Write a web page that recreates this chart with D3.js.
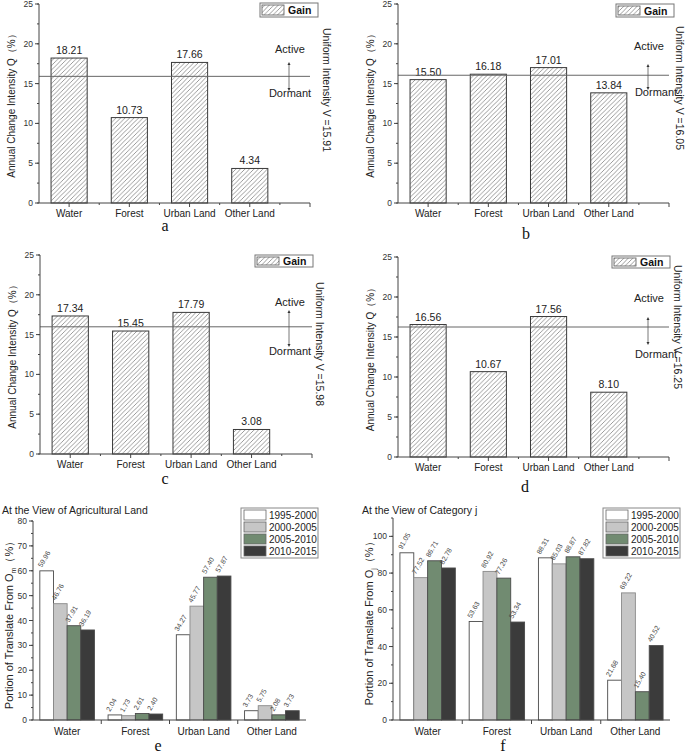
<!DOCTYPE html>
<html><head><meta charset="utf-8">
<script src="https://cdn.jsdelivr.net/npm/d3@7"></script>
<style>
body{margin:0;background:#fff;}
svg{display:block;font-family:Arial,"Liberation Sans",sans-serif;}
</style></head>
<body>
<svg id="c" width="685" height="753"></svg>
<script>
// ---------- DATA ----------
const categories = ["Water", "Forest", "Urban Land", "Other Land"];
const gainTicks = [0, 5, 10, 15, 20, 25];
const gainA = [18.21, 10.73, 17.66, 4.34];
const gainB = [15.50, 16.18, 17.01, 13.84];
const gainC = [17.34, 15.45, 17.79, 3.08];
const gainD = [16.56, 10.67, 17.56, 8.10];
const uniformV = [15.91, 16.05, 15.98, 16.25];
const periods = ["1995-2000", "2000-2005", "2005-2010", "2010-2015"];
const agri1995 = [59.96, 2.04, 34.27, 3.73];
const agri2000 = [46.76, 1.73, 45.77, 5.75];
const agri2005 = [37.91, 2.61, 57.40, 2.08];
const agri2010 = [36.19, 2.40, 57.87, 3.73];
const agriTicks = [0, 10, 20, 30, 40, 50, 60, 70, 80];
const catj1995 = [91.05, 53.63, 88.31, 21.68];
const catj2000 = [77.52, 80.92, 85.03, 69.22];
const catj2005 = [86.71, 77.26, 88.87, 15.40];
const catj2010 = [82.78, 53.34, 87.82, 40.52];
const catjTicks = [0, 20, 40, 60, 80, 100];

// ---------- STYLE ----------
const periodColors = ["#ffffff", "#c6c6c6", "#718b71", "#3b3b3b"];
const axisColor = "#444";
const svg = d3.select("#c");

const defs = svg.append("defs");
const pat = defs.append("pattern").attr("id", "hatch").attr("patternUnits", "userSpaceOnUse")
  .attr("width", 4.5).attr("height", 4.5);
pat.append("rect").attr("width", 4.5).attr("height", 4.5).attr("fill", "#fff");
pat.append("path").attr("d", "M-1,1 l2,-2 M0,4.5 l4.5,-4.5 M3.5,5.5 l2,-2")
  .attr("stroke", "#7a7a7a").attr("stroke-width", 0.75);

function yAxisDraw(g, y, x0, ticks, minorStep, fs) {
  const dom = y.domain();
  g.append("line").attr("x1", x0).attr("x2", x0).attr("y1", y(dom[0])).attr("y2", y(dom[1]))
    .attr("stroke", axisColor).attr("stroke-width", 1);
  const minors = d3.range(dom[0], dom[1] + 1e-9, minorStep);
  g.selectAll(null).data(minors).join("line")
    .attr("x1", x0 - 2).attr("x2", x0).attr("y1", d => y(d)).attr("y2", d => y(d))
    .attr("stroke", axisColor);
  g.selectAll(null).data(ticks).join("line")
    .attr("x1", x0 - 4).attr("x2", x0).attr("y1", d => y(d)).attr("y2", d => y(d))
    .attr("stroke", axisColor);
  g.selectAll(null).data(ticks).join("text")
    .attr("x", x0 - 6).attr("y", d => y(d) + 3).attr("text-anchor", "end")
    .attr("font-size", fs).attr("fill", "#333").text(d => d);
}

// ---------- TOP PANELS (Gain) ----------
const gainPanels = [
  {vals: gainA, v: uniformV[0], x0: 39, x1: 310, yT: 4, yB: 203, letter: "a", lx: 165, ly: 231,
   leg: [260, 3, 14], rl: [327, 90], act: [289, 53, 62, 91, 290, 97]},
  {vals: gainB, v: uniformV[1], x0: 398, x1: 669, yT: 4, yB: 203, letter: "b", lx: 526, ly: 239,
   leg: [616, 4, 13], rl: [680, 88], act: [648, 50, 64, 90, 656, 96]},
  {vals: gainC, v: uniformV[2], x0: 40, x1: 312, yT: 255, yB: 454, letter: "c", lx: 165, ly: 484,
   leg: [255, 255, 12], rl: [320, 344], act: [289, 306, 310, 347, 290, 355]},
  {vals: gainD, v: uniformV[3], x0: 398, x1: 669, yT: 257, yB: 457, letter: "d", lx: 525, ly: 492,
   leg: [612, 256, 12], rl: [678, 327], act: [648, 302, 317, 345, 656, 358]}
];

gainPanels.forEach(p => {
  const g = svg.append("g");
  const x = d3.scaleLinear().domain([0.5, 5]).range([p.x0, p.x1]);
  const y = d3.scaleLinear().domain([0, 25]).range([p.yB, p.yT]);
  const bw = 0.6;
  g.selectAll(null).data(p.vals).join("rect")
    .attr("x", (d, i) => x(i + 1 - bw / 2)).attr("width", x(1 + bw) - x(1))
    .attr("y", d => y(d)).attr("height", d => y(0) - y(d))
    .attr("fill", "url(#hatch)").attr("stroke", "#3a3a3a").attr("stroke-width", 1);
  g.selectAll(null).data(p.vals).join("text")
    .attr("x", (d, i) => x(i + 1)).attr("y", d => y(d) - 4).attr("text-anchor", "middle")
    .attr("font-size", 10.5).attr("fill", "#222").text(d => d.toFixed(2));
  g.append("line").attr("x1", p.x0).attr("x2", p.x1).attr("y1", y(p.v)).attr("y2", y(p.v))
    .attr("stroke", "#666").attr("stroke-width", 1);
  yAxisDraw(g, y, p.x0, gainTicks, 2.5, 8.5);
  g.append("line").attr("x1", p.x0).attr("x2", p.x1).attr("y1", p.yB).attr("y2", p.yB)
    .attr("stroke", axisColor);
  g.selectAll(null).data([1, 2, 3, 4, 5]).join("line")
    .attr("x1", d => x(d)).attr("x2", d => x(d)).attr("y1", p.yB).attr("y2", p.yB + 4)
    .attr("stroke", axisColor);
  g.selectAll(null).data([1.5, 2.5, 3.5, 4.5]).join("line")
    .attr("x1", d => x(d)).attr("x2", d => x(d)).attr("y1", p.yB).attr("y2", p.yB + 2)
    .attr("stroke", axisColor);
  g.selectAll(null).data(categories).join("text")
    .attr("x", (d, i) => x(i + 1)).attr("y", p.yB + 14).attr("text-anchor", "middle")
    .attr("font-size", 10).attr("fill", "#222").text(d => d);
  g.append("text").attr("transform", `translate(${p.x0 - 24},${(p.yT + p.yB) / 2}) rotate(-90)`)
    .attr("text-anchor", "middle").attr("font-size", 10).attr("fill", "#222")
    .text("Annual Change Intensity Q（%）");
  g.append("text").attr("transform", `translate(${p.rl[0] - 4},${p.rl[1]}) rotate(90)`)
    .attr("text-anchor", "middle").attr("font-size", 10.5).attr("fill", "#222")
    .text("Uniform Intensity V =" + p.v.toFixed(2));
  const [lx, ly, lh] = p.leg;
  g.append("rect").attr("x", lx).attr("y", ly).attr("width", 58).attr("height", lh)
    .attr("fill", "#fff").attr("stroke", "#777");
  g.append("rect").attr("x", lx + 2).attr("y", ly + 2).attr("width", 22).attr("height", lh - 4)
    .attr("fill", "url(#hatch)").attr("stroke", "#555").attr("stroke-width", 0.8);
  g.append("text").attr("x", lx + 28).attr("y", ly + lh / 2 + 4).attr("font-size", 10.5)
    .attr("font-weight", "bold").attr("fill", "#111").text("Gain");
  const [ax, aty, a1, a2, dx, dty] = p.act;
  g.append("text").attr("x", ax + 1).attr("y", aty).attr("text-anchor", "middle")
    .attr("font-size", 11).attr("fill", "#222").text("Active");
  g.append("line").attr("x1", ax).attr("x2", ax).attr("y1", a1 + 2).attr("y2", a2 - 2)
    .attr("stroke", "#555").attr("stroke-width", 0.8);
  g.append("path").attr("d", `M${ax - 1.5},${a1 + 3}L${ax},${a1}L${ax + 1.5},${a1 + 3}Z`).attr("fill", "#333");
  g.append("path").attr("d", `M${ax - 1.5},${a2 - 3}L${ax},${a2}L${ax + 1.5},${a2 - 3}Z`).attr("fill", "#333");
  g.append("text").attr("x", dx).attr("y", dty).attr("text-anchor", "middle")
    .attr("font-size", 11).attr("fill", "#222").text("Dormant");
  g.append("text").attr("x", p.lx).attr("y", p.ly).attr("text-anchor", "middle")
    .attr("font-family", "'Liberation Serif','Times New Roman',serif").attr("font-size", 16)
    .attr("fill", "#111").text(p.letter);
});

// ---------- BOTTOM PANELS ----------
const bottomPanels = [
  {series: [agri1995, agri2000, agri2005, agri2010], ticks: agriTicks, ymax: 80, minor: 5,
   x0: 33, x1: 306, yT: 521, yB: 720, title: "At the View of Agricultural Land", tx: 2,
   sub: "m", ylx: 9, leg: [241, 508], letter: "e", lx: 158},
  {series: [catj1995, catj2000, catj2005, catj2010], ticks: catjTicks, ymax: 110, minor: 10,
   x0: 393, x1: 670, yT: 518, yB: 720, title: "At the View of Category j", tx: 362,
   sub: "j", ylx: 369, leg: [603, 508], letter: "f", lx: 503}
];

bottomPanels.forEach(p => {
  const g = svg.append("g");
  const x = d3.scaleLinear().domain([0.5, 4.5]).range([p.x0, p.x1]);
  const y = d3.scaleLinear().domain([0, p.ymax]).range([p.yB, p.yT]);
  const bw = 0.2;
  p.series.forEach((vals, s) => {
    const off = -0.4 + s * bw;
    g.selectAll(null).data(vals).join("rect")
      .attr("x", (d, i) => x(i + 1 + off)).attr("width", x(1 + bw) - x(1))
      .attr("y", d => y(d)).attr("height", d => y(0) - y(d))
      .attr("fill", periodColors[s]).attr("stroke", s === 1 ? "#8a8a8a" : "#4a4a4a").attr("stroke-width", 0.9);
    g.selectAll(null).data(vals).join("text")
      .attr("transform", (d, i) => `translate(${x(i + 1 + off) + 2},${y(d) - 3}) rotate(-60)`)
      .attr("font-size", 7).attr("fill", "#444").text(d => d.toFixed(2));
  });
  yAxisDraw(g, y, p.x0, p.ticks, p.minor, 8.5);
  g.append("line").attr("x1", p.x0).attr("x2", p.x1).attr("y1", p.yB).attr("y2", p.yB).attr("stroke", axisColor);
  g.selectAll(null).data([1.5, 2.5, 3.5]).join("line")
    .attr("x1", d => x(d)).attr("x2", d => x(d)).attr("y1", p.yB).attr("y2", p.yB + 4).attr("stroke", axisColor);
  g.selectAll(null).data(categories).join("text")
    .attr("x", (d, i) => x(i + 1)).attr("y", p.yB + 15).attr("text-anchor", "middle")
    .attr("font-size", 10).attr("fill", "#222").text(d => d);
  g.append("text").attr("x", p.tx).attr("y", 514).attr("font-size", 10.5).attr("fill", "#222").text(p.title);
  const yl = g.append("text").attr("transform", `translate(${p.ylx + 4},${(p.yT + p.yB) / 2 + 2}) rotate(-90)`)
    .attr("text-anchor", "middle").attr("font-size", 11).attr("fill", "#222");
  yl.append("tspan").text("Portion of Translate From O");
  yl.append("tspan").attr("font-size", 7).attr("dy", 3).text(p.sub);
  yl.append("tspan").attr("dy", -3).text("（%）");
  const [lx, ly] = p.leg;
  g.append("rect").attr("x", lx).attr("y", ly).attr("width", 77).attr("height", 50)
    .attr("fill", "#fff").attr("stroke", "#888");
  periods.forEach((t, i) => {
    g.append("rect").attr("x", lx + 3).attr("y", ly + 2 + i * 12).attr("width", 22).attr("height", 10)
      .attr("fill", periodColors[i]).attr("stroke", "#666").attr("stroke-width", 0.8);
    g.append("text").attr("x", lx + 28).attr("y", ly + 11 + i * 12).attr("font-size", 10)
      .attr("fill", "#222").text(t);
  });
  g.append("text").attr("x", p.lx).attr("y", 751).attr("text-anchor", "middle")
    .attr("font-family", "'Liberation Serif','Times New Roman',serif").attr("font-size", 16)
    .attr("fill", "#111").text(p.letter);
});
</script>
</body></html>
